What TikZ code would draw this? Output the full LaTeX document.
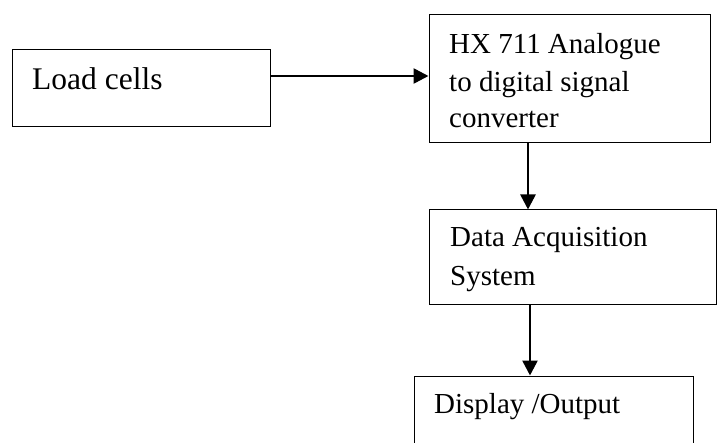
\documentclass[tikz,border=0pt]{standalone}
\usepackage{fontspec}
\setmainfont{Liberation Serif}
\usetikzlibrary{arrows.meta}
\begin{document}
\begin{tikzpicture}[x=1pt,y=-1pt,
  blockbox/.style={draw=black,line width=1pt,inner sep=0pt},
  txt/.style={anchor=base west,inner sep=0pt,font=\fontsize{29}{37.5}\selectfont,align=left},
  flow/.style={draw=black,line width=2.6pt,-{Triangle[length=15pt,width=15pt]}}]
\clip (0,0) rectangle (717,443);
\fill[white] (0,0) rectangle (717,443);
% boxes
\node[blockbox,minimum width=258pt,minimum height=77pt] (b1) at (141,88.5) {};
\node[blockbox,minimum width=281pt,minimum height=128pt] (b2) at (569.5,79) {};
\node[blockbox,minimum width=287pt,minimum height=95pt] (b3) at (572.5,257.5) {};
\node[blockbox,minimum width=279pt,minimum height=90pt] (b4) at (553.5,421) {};
% texts
\node[txt,font=\fontsize{31.5}{37.5}\selectfont] (t1) at (32,90) {Load cells};
\node[txt] (t2a) at (449,53.3) {HX 711 Analogue};
\node[txt] (t2b) at (449,91.7) {to digital signal};
\node[txt] (t2c) at (449,128) {converter};
\node[txt] (t3a) at (450,247) {Data Acquisition};
\node[txt] (t3b) at (450,285.5) {System};
\node[txt] (t4) at (434,413) {Display /Output};
% connectors
\draw[flow] (b1.east |- 0,76) -- (b2.west |- 0,76);
\draw[flow] (b2.south -| 528,0) -- (b3.north -| 528,0);
\draw[flow] (b3.south -| 530,0) -- (b4.north -| 530,0);
\end{tikzpicture}
\end{document}
